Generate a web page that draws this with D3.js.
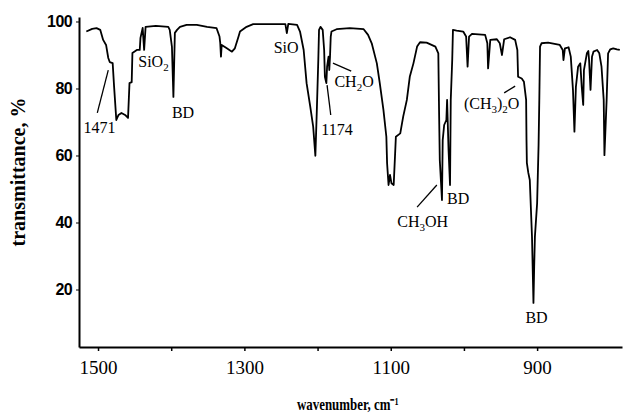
<!DOCTYPE html>
<html>
<head>
<meta charset="utf-8">
<script src="https://cdn.jsdelivr.net/npm/d3@7"></script>
<style>
  body { margin: 0; background: #fff; }
</style>
</head>
<body>
<script>
// spectrum: wavenumber (cm-1) and transmittance (%)
const wavenumber = [
  1516, 1508, 1502, 1497, 1493, 1489, 1486, 1484, 1480, 1478, 1475, 1472, 1468, 1463, 1459, 1457,
  1454, 1453, 1447, 1443, 1442, 1439, 1437, 1435, 1421, 1404, 1402, 1399, 1397, 1395, 1392, 1388,
  1379, 1365, 1351, 1338, 1334, 1333, 1332, 1331, 1324, 1317, 1313, 1308, 1306, 1297, 1288, 1269,
  1244, 1242, 1240, 1228, 1224, 1219, 1215, 1210, 1206, 1203, 1201, 1199, 1198, 1196, 1193, 1191,
  1190, 1188, 1187, 1185, 1184, 1183, 1182, 1181, 1174, 1156, 1137, 1131, 1126, 1119, 1115, 1110,
  1106, 1105, 1103, 1101, 1099, 1096, 1094, 1093, 1087, 1083, 1078, 1074, 1069, 1064, 1060, 1051,
  1039, 1035, 1034, 1033, 1030, 1029, 1027, 1024, 1023, 1021, 1019, 1018, 1016, 1015, 1010, 1001,
  997, 995, 993, 989, 971, 968, 967, 964, 955, 951, 948, 945, 937, 930, 927, 926,
  921, 918, 915, 914.5, 914, 912, 910, 907, 905, 904, 903, 900, 898, 897, 896, 894,
  885, 869, 865, 864, 862, 857, 854, 851, 849, 847, 844, 841, 839, 837, 836, 832,
  830, 829, 827, 825, 823, 818, 815, 812, 809, 808, 805, 803, 800, 796, 791, 787
];
const transmittance = [
  97.0, 97.8, 98.0, 97.5, 94.5, 93.0, 89.1, 87.9, 87.6, 80.4, 70.6, 72.1, 72.7, 72.1, 71.2, 81.6,
  81.9, 90.6, 91.5, 91.5, 95.1, 98.1, 91.5, 98.4, 98.7, 98.4, 97.5, 92.4, 77.5, 96.6, 97.5, 98.4,
  99.0, 99.0, 98.4, 98.0, 95.5, 93.6, 89.5, 93.0, 92.0, 91.0, 92.0, 95.5, 97.0, 98.4, 99.2, 99.2,
  99.2, 96.5, 99.3, 99.0, 97.0, 91.5, 81.6, 74.6, 68.6, 59.9, 73.6, 88.5, 97.5, 98.4, 97.5, 91.5,
  83.5, 81.6, 86.5, 89.5, 85.5, 89.5, 95.5, 97.0, 97.7, 98.0, 97.7, 96.0, 93.5, 87.5, 81.6, 73.6,
  65.6, 57.7, 51.2, 54.2, 51.7, 51.2, 60.7, 65.6, 66.6, 71.6, 76.6, 83.5, 87.5, 92.5, 93.8, 93.7,
  92.5, 90.5, 73.6, 58.7, 46.7, 64.6, 69.1, 70.6, 76.6, 61.6, 51.2, 76.6, 88.5, 97.5, 97.3, 97.0,
  95.5, 86.5, 95.5, 96.3, 96.0, 93.5, 86.0, 94.5, 94.7, 93.5, 90.0, 94.7, 95.3, 94.5, 91.5, 83.5,
  83.0, 82.0, 76.6, 64.6, 57.8, 54.8, 52.7, 35.8, 16.0, 26.8, 35.8, 45.7, 63.1, 76.6, 92.5, 93.5,
  93.7, 93.0, 91.5, 88.5, 92.0, 92.3, 89.5, 79.6, 67.1, 80.5, 86.5, 87.5, 80.5, 75.1, 85.5, 90.5,
  91.2, 88.5, 79.6, 89.5, 91.0, 91.5, 90.5, 86.5, 76.6, 60.1, 76.6, 90.5, 91.7, 92.0, 91.7, 91.5
];

const yTicks = [20, 40, 60, 80, 100];
const xTicks = [1500, 1400, 1300, 1200, 1100, 1000, 900];
const xTickLabels = [1500, 1300, 1100, 900];

// band labels ("_" marks a subscript digit), placed in data units
const peakText = ["1471", "SiO_2", "BD", "SiO", "CH_2O", "1174", "CH_3OH", "BD", "(CH_3)_2O", "BD"];
const peakWave = [1520, 1445, 1399, 1260, 1177, 1195, 1091, 1023, 1000, 916];
const peakTrans = [66.7, 86.4, 71.2, 90.6, 80.4, 66.1, 38.6, 45.5, 73.9, 10.0];
// leader lines: [wave1, trans1, wave2, trans2]
const leaders = [
  [1501, 72.7, 1486, 85.5],
  [1179, 87.6, 1154, 85.2],
  [1182, 72.1, 1187, 81.0],
  [1064, 44.6, 1037, 51.2],
  [945, 78.7, 930, 80.7]
];

const width = 637, height = 416;

const x = d3.scaleLinear().domain([1526, 784]).range([79, 622]);
const y = d3.scaleLinear().domain([2.84, 101.34]).range([347, 17]);

const svg = d3.select("body").append("svg")
  .attr("width", width)
  .attr("height", height)
  .attr("viewBox", [0, 0, width, height]);

// axes
const xAxis = svg.append("g")
  .attr("transform", `translate(0,${y.range()[0]})`)
  .call(d3.axisBottom(x)
    .tickValues(xTicks)
    .tickSize(4)
    .tickSizeOuter(0)
    .tickPadding(10)
    .tickFormat(d => xTickLabels.includes(d) ? d : ""));
xAxis.select(".domain").attr("stroke-width", 2);
xAxis.selectAll(".tick line").attr("stroke-width", 1.5);
xAxis.selectAll(".tick text").filter(d => !xTickLabels.includes(d)).remove();
xAxis.selectAll("text")
  .style("font-family", "'Liberation Serif', serif")
  .style("font-size", "19px")
  .attr("fill", "#000");

const yAxis = svg.append("g")
  .attr("transform", `translate(${x.range()[0]},0)`)
  .call(d3.axisLeft(y)
    .tickValues(yTicks)
    .tickSize(3)
    .tickSizeOuter(0)
    .tickPadding(4));
yAxis.select(".domain").attr("stroke-width", 2);
yAxis.selectAll("text")
  .style("font-family", "'Liberation Sans', sans-serif")
  .style("font-weight", "bold")
  .style("font-size", "16px")
  .style("letter-spacing", "-0.6px")
  .attr("fill", "#000");

// spectrum
const points = wavenumber.map((w, i) => [w, transmittance[i]]);
svg.append("path")
  .datum(points)
  .attr("fill", "none")
  .attr("stroke", "#000")
  .attr("stroke-width", 1.8)
  .attr("stroke-linejoin", "round")
  .attr("d", d3.line().x(d => x(d[0])).y(d => y(d[1])));

// leaders
svg.append("g")
  .selectAll("line")
  .data(leaders)
  .join("line")
  .attr("x1", d => x(d[0]))
  .attr("y1", d => y(d[1]))
  .attr("x2", d => x(d[2]))
  .attr("y2", d => y(d[3]))
  .attr("stroke", "#000")
  .attr("stroke-width", 1.3);

// band labels
const labels = svg.append("g")
  .style("font-family", "'Liberation Serif', serif")
  .style("font-size", "16px")
  .attr("fill", "#000");

peakText.forEach((txt, i) => {
  const t = labels.append("text")
    .attr("x", x(peakWave[i]))
    .attr("y", y(peakTrans[i]));
  const parts = txt.split(/(_\d)/).filter(s => s.length);
  let shift = 0;
  parts.forEach(p => {
    if (p[0] === "_") {
      t.append("tspan").attr("dy", 4 - shift).style("font-size", "11px").text(p.slice(1));
      shift = 4;
    } else {
      t.append("tspan").attr("dy", -shift).text(p);
      shift = 0;
    }
  });
});

// axis titles
svg.append("text")
  .attr("transform", "translate(25,172) rotate(-90)")
  .attr("text-anchor", "middle")
  .style("font-family", "'Liberation Serif', serif")
  .style("font-weight", "bold")
  .style("font-size", "20px")
  .text("transmittance, %");

// the scanned x title is squeezed sideways
svg.append("text")
  .attr("transform", "translate(297,410) scale(0.76,1)")
  .style("font-family", "'Liberation Serif', serif")
  .style("font-weight", "bold")
  .style("font-size", "17px")
  .text("wavenumber, cm\u207B\u00B9");
</script>
</body>
</html>
